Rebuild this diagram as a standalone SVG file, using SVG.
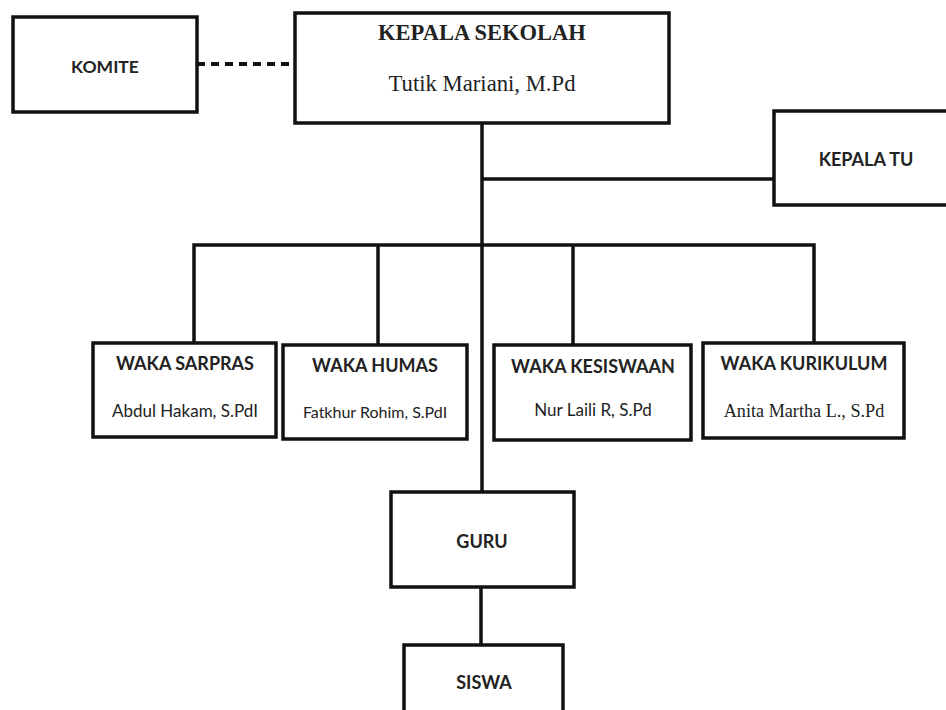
<svg xmlns="http://www.w3.org/2000/svg" width="946" height="710" viewBox="0 0 946 710">
<style>
.box{fill:#fff;stroke:#111;stroke-width:3.5}
.ln{stroke:#111;stroke-width:3.5;fill:none}
.dash{stroke:#111;stroke-width:4;stroke-dasharray:8 6;fill:none}
.h{font-family:Lato,"Liberation Sans",sans-serif;font-weight:bold;font-size:18px;fill:#222;text-anchor:middle}
.n{font-family:Lato,"Liberation Sans",sans-serif;font-size:17px;fill:#222;text-anchor:middle}
.sh{font-family:"Liberation Serif","Times New Roman",serif;font-weight:bold;font-size:22.5px;fill:#222;text-anchor:middle}
.sn{font-family:"Liberation Serif","Times New Roman",serif;font-size:22.7px;fill:#222;text-anchor:middle}
</style>
<rect width="946" height="710" fill="#fff"/>
<g id="connectors">
<line class="dash" x1="197" y1="64" x2="295" y2="64"/>
<line class="ln" x1="482" y1="123" x2="482" y2="492"/>
<line class="ln" x1="482" y1="179" x2="774" y2="179"/>
<polyline class="ln" points="194,343 194,245 814,245 814,343"/>
<line class="ln" x1="378" y1="245" x2="378" y2="345"/>
<line class="ln" x1="573" y1="245" x2="573" y2="345"/>
<line class="ln" x1="481" y1="587" x2="481" y2="645"/>
</g>
<g id="komite">
<rect class="box" x="13" y="17" width="184" height="95"/>
<text class="h" x="105" y="73" style="font-size:17.5px">KOMITE</text>
</g>
<g id="kepala-sekolah">
<rect class="box" x="295" y="13" width="374" height="110"/>
<text class="sh" x="482" y="40">KEPALA SEKOLAH</text>
<text class="sn" x="482" y="91">Tutik Mariani, M.Pd</text>
</g>
<g id="kepala-tu">
<rect class="box" x="774" y="111" width="200" height="94"/>
<text class="h" x="866" y="166">KEPALA TU</text>
</g>
<g id="waka-sarpras">
<rect class="box" x="93" y="343" width="183" height="94"/>
<text class="h" x="185" y="370">WAKA SARPRAS</text>
<text class="n" x="185" y="417">Abdul Hakam, S.PdI</text>
</g>
<g id="waka-humas">
<rect class="box" x="283" y="345" width="184" height="94"/>
<text class="h" x="375" y="372">WAKA HUMAS</text>
<text class="n" x="375" y="418" style="font-size:16px">Fatkhur Rohim, S.PdI</text>
</g>
<g id="waka-kesiswaan">
<rect class="box" x="494" y="345" width="197" height="95"/>
<text class="h" x="593" y="373">WAKA KESISWAAN</text>
<text class="n" x="593" y="416">Nur Laili R, S.Pd</text>
</g>
<g id="waka-kurikulum">
<rect class="box" x="703" y="343" width="201" height="95"/>
<text class="h" x="804" y="370">WAKA KURIKULUM</text>
<text class="sn" x="804" y="417" style="font-size:18.2px">Anita Martha L., S.Pd</text>
</g>
<g id="guru">
<rect class="box" x="391" y="492" width="183" height="95"/>
<text class="h" x="482" y="548">GURU</text>
</g>
<g id="siswa">
<rect class="box" x="404" y="645" width="159" height="100"/>
<text class="h" x="484" y="689">SISWA</text>
</g>
</svg>
